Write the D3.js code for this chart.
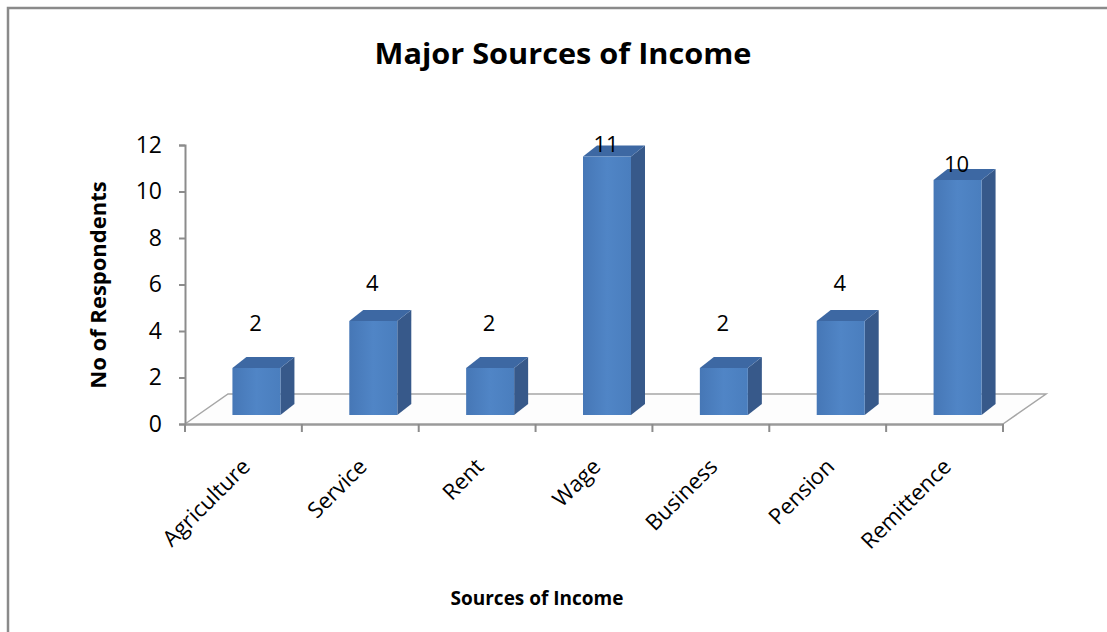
<!DOCTYPE html>
<html><head><meta charset="utf-8">
<script src="https://cdn.jsdelivr.net/npm/d3@7"></script>
<style>html,body{margin:0;padding:0;background:#fff;overflow:hidden}svg{display:block}text{font-family:"Open Sans",Lato,sans-serif;fill:#000}</style>
</head><body><svg id="c" width="1107" height="632"></svg>
<script>
const categories = ["Agriculture","Service","Rent","Wage","Business","Pension","Remittence"];
const values = [2,4,2,11,2,4,10];
const yTicks = [0,2,4,6,8,10,12];
const title = "Major Sources of Income";
const xTitle = "Sources of Income";
const yTitle = "No of Respondents";

const svg = d3.select("#c");
svg.append("path").attr("d","M8,640 L8,8 L1120,8").attr("fill","none")
  .attr("stroke","#8a8a8a").attr("stroke-width",2.5);

const x = d3.scaleBand().domain(categories).range([185,1003]);
const y = d3.scaleLinear().domain([0,12]).range([424,145]);
const yBar = d3.scaleLinear().domain([0,12]).range([415,133]);
const yLab = d3.scaleLinear().domain([0,12]).range([362,123]);
const D = {dx:43, dy:-30};
const B = {dx:14, dy:-11, w:48, off:13};

// floor
const f = [[x.range()[0],y(0)],[x.range()[0]+D.dx,y(0)+D.dy],[x.range()[1]+D.dx,y(0)+D.dy],[x.range()[1],y(0)]];
svg.append("path").attr("d",d3.line()(f)).attr("fill","#fdfdfd").attr("stroke","#a6a6a6").attr("stroke-width",1.5);

// y axis
const ya = svg.append("g").attr("transform",`translate(${x.range()[0]},0)`)
  .call(d3.axisLeft(y).tickValues(yTicks).tickSize(6).tickPadding(17));
ya.select(".domain").attr("stroke","#8c8c8c").attr("stroke-width",2);
ya.selectAll(".tick line").attr("stroke","#8c8c8c").attr("stroke-width",2);
ya.selectAll(".tick text").attr("font-size",23).attr("font-family",'"Open Sans",sans-serif').attr("fill","#000");

// x axis
const xa = svg.append("g").attr("transform",`translate(0,${y(0)})`)
  .call(d3.axisBottom(x).tickSize(0).tickFormat(""));
xa.select(".domain").attr("stroke","#9a9a9a").attr("stroke-width",2.5);
const bounds = categories.map(c=>x(c)).concat([x.range()[1]]);
xa.selectAll(".bt").data(bounds).enter().append("line").attr("class","bt")
  .attr("x1",d=>d).attr("x2",d=>d).attr("y1",0).attr("y2",8).attr("stroke","#8c8c8c").attr("stroke-width",2);

// bars
const defs = svg.append("defs");
const gr = defs.append("linearGradient").attr("id","front").attr("x1",0).attr("x2",1).attr("y1",0).attr("y2",0);
gr.append("stop").attr("offset","0%").attr("stop-color","#4677b6");
gr.append("stop").attr("offset","50%").attr("stop-color","#5085c6");
gr.append("stop").attr("offset","100%").attr("stop-color","#4a7ebe");
const g = svg.append("g");
categories.forEach((c,i)=>{
  const v = values[i];
  const x0 = x(c)+x.bandwidth()/2+B.off-B.w/2, x1 = x0+B.w;
  const yt = yBar(v), yb = yBar(0);
  g.append("path").attr("d",d3.line()([[x1,yt],[x1+B.dx,yt+B.dy],[x1+B.dx,yb+B.dy],[x1,yb]])).attr("fill","#37598a");
  g.append("path").attr("d",d3.line()([[x0,yt],[x0+B.dx,yt+B.dy],[x1+B.dx,yt+B.dy],[x1,yt]])).attr("fill","#3d68a3");
  g.append("rect").attr("x",x0).attr("y",yt).attr("width",B.w).attr("height",yb-yt).attr("fill","url(#front)");
  g.append("text").attr("x",x(c)+x.bandwidth()/2+12).attr("y",yLab(v)).attr("dominant-baseline","central")
    .attr("text-anchor","middle").attr("font-size",22).text(v);
});

// category labels
svg.append("g").selectAll("text").data(categories).enter().append("text")
  .attr("transform",c=>`translate(${x(c)+x.bandwidth()/2+8},${y(0)+44}) rotate(-45)`)
  .attr("text-anchor","end").attr("font-size",22).text(c=>c);

svg.append("text").attr("x",563).attr("y",64).attr("text-anchor","middle").attr("font-size",29)
  .attr("font-weight","bold").attr("textLength",377).attr("lengthAdjust","spacingAndGlyphs").text(title);
svg.append("text").attr("x",537).attr("y",605).attr("text-anchor","middle").attr("font-size",19).attr("font-weight","bold").text(xTitle);
svg.append("text").attr("transform","translate(106,285) rotate(-90)").attr("text-anchor","middle").attr("font-size",22).attr("font-weight","bold").text(yTitle);
</script></body></html>
